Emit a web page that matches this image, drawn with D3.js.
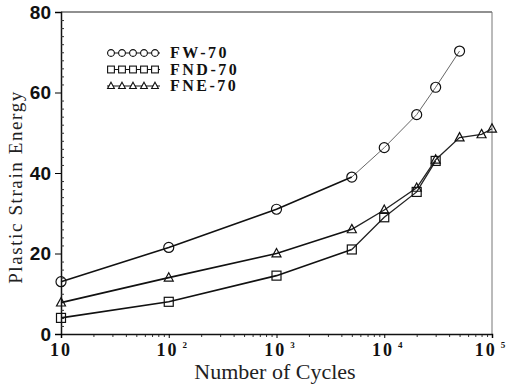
<!DOCTYPE html>
<html>
<head>
<meta charset="utf-8">
<script src="https://cdnjs.cloudflare.com/ajax/libs/d3/7.8.5/d3.min.js"></script>
<style>
  body { margin: 0; background: #fff; }
  svg { display: block; }
</style>
</head>
<body>
<svg width="509" height="391"></svg>
<script>
// cycles where each specimen was measured
const cyclesFW = [10, 100, 1000, 5000, 10000, 20000, 30000, 50000];
const energyFW = [13, 21.5, 31, 39, 46.3, 54.5, 61.3, 70.3];

const cyclesFND = [10, 100, 1000, 5000, 10000, 20000, 30000];
const energyFND = [4, 8, 14.5, 21, 29, 35.3, 43];

const cyclesFNE = [10, 100, 1000, 5000, 10000, 20000, 30000, 50000, 80000, 100000];
const energyFNE = [7.8, 14, 20, 26, 30.8, 36.3, 43.3, 48.8, 49.6, 51];

const seriesNames = ['FW-70', 'FND-70', 'FNE-70'];
const yTicks = [0, 20, 40, 60, 80];
const xTicks = [10, 100, 1000, 10000, 100000];
const xTickExp = ['', '2', '3', '4', '5'];

const svg = d3.select('svg');
const plotL = 61, plotR = 492, plotT = 12, plotB = 334;

const x = d3.scaleLog().domain([10, 1e5]).range([plotL, plotR]);
const y = d3.scaleLinear().domain([0, 80]).range([plotB, plotT]);

// frame
svg.append('line')
  .attr('x1', plotL).attr('x2', plotR).attr('y1', plotT).attr('y2', plotT)
  .attr('stroke', '#222').attr('stroke-width', 1.2);
svg.append('line')
  .attr('x1', plotR).attr('x2', plotR).attr('y1', plotT).attr('y2', plotB)
  .attr('stroke', '#777').attr('stroke-width', 1);

// y axis
const yAxis = svg.append('g')
  .attr('transform', `translate(${plotL},0)`)
  .call(d3.axisLeft(y).tickValues(yTicks).tickSize(6).tickPadding(4).tickFormat(d3.format('d')));
yAxis.select('.domain').attr('stroke', '#111').attr('stroke-width', 1.5);
yAxis.selectAll('text')
  .attr('font-family', 'Liberation Sans, Arial, sans-serif')
  .attr('font-weight', 'bold').attr('font-size', 19).attr('fill', '#111');

svg.append('g')
  .attr('transform', `translate(${plotL},0)`)
  .call(d3.axisRight(y).tickValues(d3.range(2, 80, 2).filter(v => v % 20)).tickSize(3).tickFormat(''))
  .call(g => g.select('.domain').remove())
  .selectAll('line').attr('stroke', '#333');

// x axis
const minor = [];
for (let e = 1; e < 5; e++) for (let m = 2; m < 10; m++) minor.push(m * Math.pow(10, e));
svg.append('g')
  .attr('transform', `translate(0,${plotB})`)
  .call(d3.axisBottom(x).tickValues(minor).tickSize(3).tickFormat(''))
  .call(g => g.select('.domain').remove())
  .selectAll('line').attr('stroke', '#333');

const xAxis = svg.append('g')
  .attr('transform', `translate(0,${plotB})`)
  .call(d3.axisBottom(x).tickValues(xTicks).tickSize(4).tickFormat(''));
xAxis.select('.domain').attr('stroke', '#111').attr('stroke-width', 1.5);

const xLab = svg.append('g')
  .selectAll('text')
  .data(xTicks)
  .enter().append('text')
    .attr('x', (d, i) => x(d) + (i === 0 ? 0 : i === 4 ? -1 : 4))
    .attr('y', plotB + 22)
    .attr('text-anchor', 'middle')
    .attr('font-family', 'Liberation Serif, Times New Roman, serif')
    .attr('font-weight', 'bold').attr('font-size', 18)
    .attr('letter-spacing', 2).attr('fill', '#111');
xLab.append('tspan').text('10');
xLab.append('tspan')
  .attr('dx', 4).attr('dy', -8).attr('font-size', 9)
  .text((d, i) => xTickExp[i]);

// axis titles
svg.append('text')
  .attr('x', 275).attr('y', 379)
  .attr('text-anchor', 'middle')
  .attr('font-family', 'Liberation Serif, Times New Roman, serif')
  .attr('font-size', 22).attr('fill', '#222')
  .text('Number of Cycles');

svg.append('text')
  .attr('transform', 'translate(22,187) rotate(-90)')
  .attr('text-anchor', 'middle')
  .attr('font-family', 'Liberation Serif, Times New Roman, serif')
  .attr('font-size', 19).attr('letter-spacing', 1.6).attr('fill', '#222')
  .text('Plastic Strain Energy');

// markers
const circle = (g, r) => g.append('circle').attr('r', r);
const square = (g, r) => g.append('rect').attr('x', -r).attr('y', -r).attr('width', 2 * r).attr('height', 2 * r);
const triangle = (g, r) => g.append('path')
  .attr('d', `M0,${-r * 1.1}L${r},${r * 0.75}L${-r},${r * 0.75}Z`);
const shapes = [circle, square, triangle];

const series = [
  { name: seriesNames[0], xs: cyclesFW, ys: energyFW, shape: 0 },
  { name: seriesNames[1], xs: cyclesFND, ys: energyFND, shape: 1 },
  { name: seriesNames[2], xs: cyclesFNE, ys: energyFNE, shape: 2 }
];

const line = d3.line().x(d => x(d[0])).y(d => y(d[1]));

series.forEach(s => {
  const pts = s.xs.map((c, i) => [c, s.ys[i]]);
  // heavy part up to 5000 cycles, lighter beyond
  const split = s.xs.indexOf(5000);
  svg.append('path')
    .attr('d', line(pts.slice(0, split + 1)))
    .attr('fill', 'none').attr('stroke', '#111').attr('stroke-width', 1.6);
  svg.append('path')
    .attr('d', line(pts.slice(split)))
    .attr('fill', 'none')
    .attr('stroke', s.shape === 0 ? '#555' : '#222')
    .attr('stroke-width', s.shape === 0 ? 0.9 : 1.3);

  const m = svg.append('g').selectAll('g')
    .data(pts)
    .enter().append('g')
      .attr('transform', d => `translate(${x(d[0])},${y(d[1])})`);
  m.each(function() {
    shapes[s.shape](d3.select(this), s.shape === 0 ? 5 : 4.5)
      .attr('fill', 'none').attr('stroke', '#111').attr('stroke-width', 1.2);
  });
});

// legend
const legend = svg.append('g');
series.forEach((s, i) => {
  const ly = 53 + i * 16.5;
  legend.append('line')
    .attr('x1', 107).attr('x2', 160).attr('y1', ly).attr('y2', ly)
    .attr('stroke', '#111').attr('stroke-width', 1.2);
  d3.range(5).forEach(k => {
    const g = legend.append('g').attr('transform', `translate(${111 + k * 11},${ly})`);
    shapes[s.shape](g, 3.4).attr('fill', '#fff').attr('stroke', '#111').attr('stroke-width', 1.1);
  });
  legend.append('text')
    .attr('x', 170).attr('y', ly + 5)
    .attr('font-family', 'Liberation Serif, Times New Roman, serif')
    .attr('font-weight', 'bold').attr('font-size', 16)
    .attr('letter-spacing', 2.5).attr('fill', '#111')
    .text(s.name);
});
</script>
</body>
</html>
